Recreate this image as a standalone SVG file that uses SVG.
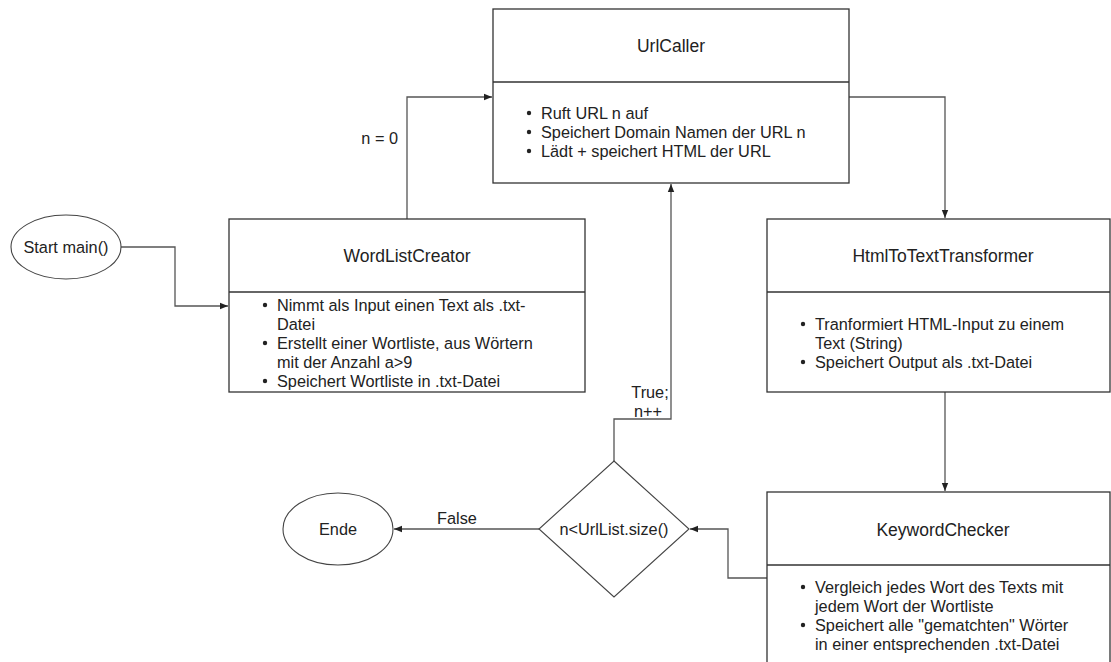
<svg xmlns="http://www.w3.org/2000/svg" width="1111" height="662" viewBox="0 0 1111 662">
  <style>
    text { font-family: "Liberation Sans", Arial, Helvetica, sans-serif; fill: #222; }
    .title { font-size: 17.5px; text-anchor: middle; }
    .item { font-size: 16.3px; }
    .lbl { font-size: 16.3px; }
    .mid { text-anchor: middle; }
    .box { fill: #fff; stroke: #333; stroke-width: 1.3; }
    .div { stroke: #333; stroke-width: 1.3; }
    .shape { fill: #fff; stroke: #444; stroke-width: 1.1; }
    .edge { fill: none; stroke: #555; stroke-width: 1.3; marker-end: url(#arrow); }
  </style>
  <defs>
    <marker id="arrow" viewBox="0 0 10 10" refX="10" refY="5" markerWidth="8" markerHeight="8" markerUnits="userSpaceOnUse" orient="auto">
      <path d="M0,1 L10,5 L0,9 Z" fill="#222"/>
    </marker>
  </defs>
  <rect width="1111" height="662" fill="#fff"/>

  <g id="connectors">
    <path class="edge" d="M121,247 H175 V306 H228"/>
    <path class="edge" d="M407,219 V97 H492"/>
    <path class="edge" d="M849,97 H945 V218"/>
    <path class="edge" d="M945,392 V491"/>
    <path class="edge" d="M767,578 H728 V529 H690"/>
    <path class="edge" d="M614,461 V419 H671 V184"/>
    <path class="edge" d="M539,529 H394"/>
    <text class="lbl" x="398" y="144" text-anchor="end">n = 0</text>
    <text class="lbl mid" x="650" y="398">True;</text>
    <text class="lbl mid" x="648" y="417">n++</text>
    <text class="lbl mid" x="457" y="524">False</text>
  </g>

  <g id="start">
    <ellipse class="shape" cx="66" cy="247" rx="55" ry="32"/>
    <text class="lbl mid" x="66" y="253">Start main()</text>
  </g>

  <g id="wordlistcreator">
    <rect class="box" x="229" y="219" width="356" height="173"/>
    <line class="div" x1="229" y1="292" x2="585" y2="292"/>
    <text class="title" x="407" y="262">WordListCreator</text>
    <g class="item">
      <circle cx="265" cy="305" r="2.2" fill="#222"/>
      <text x="277" y="311">Nimmt als Input einen Text als .txt-</text>
      <text x="277" y="330">Datei</text>
      <circle cx="265" cy="343" r="2.2" fill="#222"/>
      <text x="277" y="349">Erstellt einer Wortliste, aus Wörtern</text>
      <text x="277" y="368">mit der Anzahl a&gt;9</text>
      <circle cx="265" cy="381" r="2.2" fill="#222"/>
      <text x="277" y="387">Speichert Wortliste in .txt-Datei</text>
    </g>
  </g>

  <g id="urlcaller">
    <rect class="box" x="493" y="9" width="356" height="174"/>
    <line class="div" x1="493" y1="82" x2="849" y2="82"/>
    <text class="title" x="671" y="52">UrlCaller</text>
    <g class="item">
      <circle cx="529" cy="113" r="2.2" fill="#222"/>
      <text x="541" y="119">Ruft URL n auf</text>
      <circle cx="529" cy="132" r="2.2" fill="#222"/>
      <text x="541" y="138">Speichert Domain Namen der URL n</text>
      <circle cx="529" cy="151" r="2.2" fill="#222"/>
      <text x="541" y="157">Lädt + speichert HTML der URL</text>
    </g>
  </g>

  <g id="htmltotexttransformer">
    <rect class="box" x="767" y="219" width="343" height="173"/>
    <line class="div" x1="767" y1="292" x2="1110" y2="292"/>
    <text class="title" x="943" y="262">HtmlToTextTransformer</text>
    <g class="item">
      <circle cx="803" cy="324" r="2.2" fill="#222"/>
      <text x="815" y="330">Tranformiert HTML-Input zu einem</text>
      <text x="815" y="349">Text (String)</text>
      <circle cx="803" cy="362" r="2.2" fill="#222"/>
      <text x="815" y="368">Speichert Output als .txt-Datei</text>
    </g>
  </g>

  <g id="keywordchecker">
    <rect class="box" x="767" y="492" width="343" height="190"/>
    <line class="div" x1="767" y1="565" x2="1110" y2="565"/>
    <text class="title" x="943" y="536">KeywordChecker</text>
    <g class="item">
      <circle cx="803" cy="587" r="2.2" fill="#222"/>
      <text x="815" y="593">Vergleich jedes Wort des Texts mit</text>
      <text x="815" y="612">jedem Wort der Wortliste</text>
      <circle cx="803" cy="625" r="2.2" fill="#222"/>
      <text x="815" y="631">Speichert alle "gematchten" Wörter</text>
      <text x="815" y="650">in einer entsprechenden .txt-Datei</text>
    </g>
  </g>

  <g id="decision">
    <polygon class="shape" points="614,461 689,529 614,597 539,529"/>
    <text class="lbl mid" x="614" y="535">n&lt;UrlList.size()</text>
  </g>

  <g id="ende">
    <ellipse class="shape" cx="338" cy="529" rx="55" ry="36"/>
    <text class="lbl mid" x="338" y="535">Ende</text>
  </g>
</svg>
